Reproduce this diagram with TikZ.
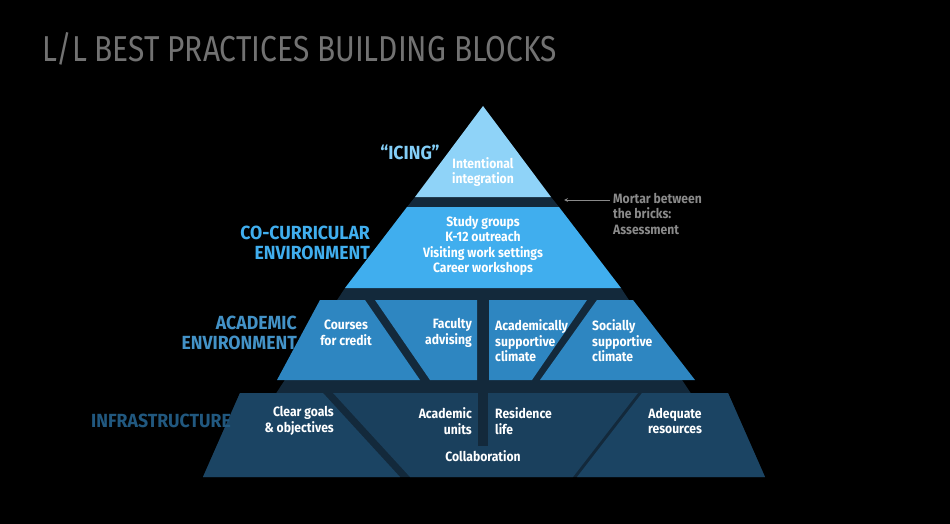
\documentclass[tikz,border=0pt]{standalone}
\usepackage{fontspec}
\setmainfont{Fira Sans}
\definecolor{mortar}{HTML}{13293B}
\definecolor{icing}{HTML}{8FD3F8}
\definecolor{cocur}{HTML}{40AEEE}
\definecolor{acad}{HTML}{2E86C1}
\definecolor{infra}{HTML}{1B4463}
\definecolor{note}{HTML}{8A8A8A}
\begin{document}
\begin{tikzpicture}[
        x=1pt, y=-1pt,
        txt/.style={text=white, font=\bfseries\fontsize{13.5}{15.5}\selectfont, xscale=0.9, transform shape, inner sep=0pt},
        layer/.style={font=\bfseries\fontsize{19}{20}\selectfont, xscale=0.93, transform shape, inner sep=0pt, align=right},
    ]
    \useasboundingbox[fill=black] (0,0) rectangle (950,524);

    % title
    \node[anchor=west, text=note!120, font=\fontsize{36}{38}\selectfont, xscale=0.83, transform shape, inner sep=0pt] (title) at (42,49) {L/L BEST PRACTICES BUILDING BLOCKS};

    % mortar behind the bricks
    \fill[mortar] (415,197) -- (551,197) -- (559,207) -- (407,207) -- cycle;
    \fill[mortar] (345,288) -- (621,288) -- (692,395) -- (275,395) -- cycle;
    \fill[mortar] (240,393) -- (728,393) -- (765,477) -- (203,477) -- cycle;

    % icing
    \fill[icing] (483,106) -- (551,197) -- (415,197) -- cycle;
    % co-curricular
    \fill[cocur] (407,207) -- (559,207) -- (621,288) -- (345,288) -- cycle;
    % academic
    \fill[acad] (320,300) -- (365,300) -- (420,380) -- (277,380) -- cycle;
    \fill[acad] (375,300) -- (477,300) -- (477,380) -- (430,380) -- cycle;
    \fill[acad] (489,300) -- (587,300) -- (532,380) -- (489,380) -- cycle;
    \fill[acad] (597,300) -- (633,300) -- (695,380) -- (540,380) -- cycle;
    % infrastructure
    \fill[infra] (240,393) -- (323,393) -- (400,477) -- (203,477) -- cycle;
    \fill[infra!85!mortar] (333,393) -- (638,393) -- (573,477) -- (410,477) -- cycle;
    \fill[infra] (642,393) -- (728,393) -- (765,477) -- (577,477) -- cycle;
    \fill[mortar] (478,393) rectangle (488,446);

    % layer names
    \node[layer, text=icing!85!cocur] (icingname) at (410,152) {``ICING''};
    \node[layer, text=cocur, anchor=east] (cocurname) at (370,243) {CO-CURRICULAR\\ENVIRONMENT};
    \node[layer, text=acad!90!white, anchor=east] (acadname) at (297,333) {ACADEMIC\\ENVIRONMENT};
    \node[layer, text=infra!70!acad, anchor=east] (infraname) at (231,421) {INFRASTRUCTURE};

    % bricks
    \node[txt, align=center] (integration) at (483,172) {Intentional\\integration};
    \node[txt, align=center] (activities) at (483,246) {Study groups\\K-12 outreach\\Visiting work settings\\Career workshops};
    \node[txt, align=center] (courses) at (346,333) {Courses\\for credit};
    \node[txt, align=right, anchor=east] (advising) at (472,333) {Faculty\\advising};
    \node[txt, align=left, anchor=west] (acclimate) at (495,341) {Academically\\supportive\\climate};
    \node[txt, align=left, anchor=west] (soclimate) at (592,341) {Socially\\supportive\\climate};
    \node[txt, align=right, anchor=east] (goals) at (334,421) {Clear goals\\\& objectives};
    \node[txt, align=right, anchor=east] (units) at (472,421) {Academic\\units};
    \node[txt, align=left, anchor=west] (reslife) at (495,421) {Residence\\life};
    \node[txt] (collab) at (483,456) {Collaboration};
    \node[txt, align=center] (resources) at (675,421) {Adequate\\resources};

    % mortar note
    \node[txt, text=note, align=left, anchor=north west] (mortarnote) at (613,193) {Mortar between\\the bricks:\\Assessment};
    \coordinate (mortarpt) at (564,200);
    \draw[note, line width=0.8pt, -stealth] (mortarnote.north west |- 0,200) ++(-3,0) -- (mortarpt);
\end{tikzpicture}
\end{document}
